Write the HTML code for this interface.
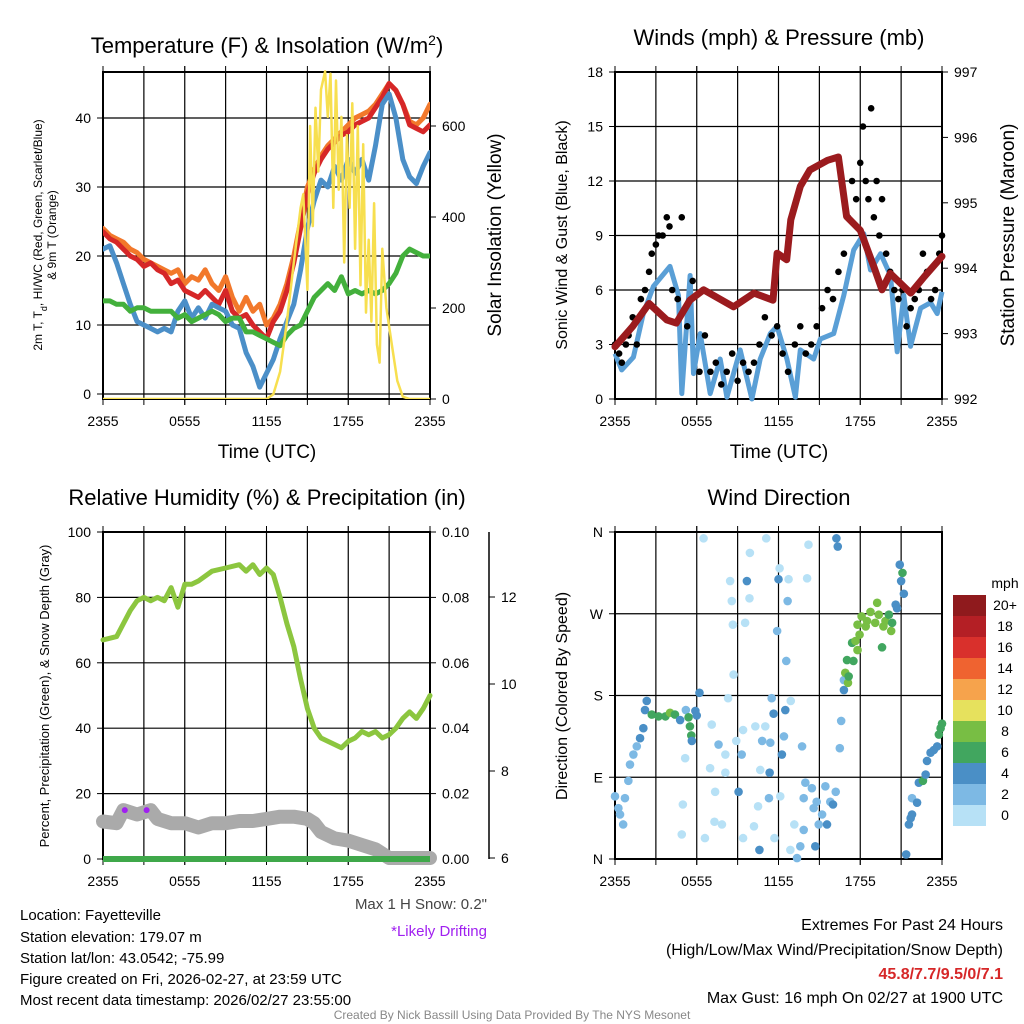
<!DOCTYPE html>
<html><head><meta charset="utf-8"><style>
html,body{margin:0;padding:0;background:#fff;}
svg{display:block;font-family:"Liberation Sans",sans-serif;}
</style></head><body>
<svg id="svg" xmlns="http://www.w3.org/2000/svg" width="1024" height="1024" viewBox="0 0 1024 1024">
<g id="static" font-family="Liberation Sans, sans-serif">
<text x="267" y="53" font-size="22" text-anchor="middle">Temperature (F) &amp; Insolation (W/m<tspan baseline-shift="super" font-size="14">2</tspan>)</text>
<text x="779" y="45" font-size="22" text-anchor="middle">Winds (mph) &amp; Pressure (mb)</text>
<text x="267" y="505" font-size="22" text-anchor="middle">Relative Humidity (%) &amp; Precipitation (in)</text>
<text x="779" y="505" font-size="22" text-anchor="middle">Wind Direction</text>
<g transform="translate(42,235) rotate(-90)" font-size="12" text-anchor="middle"><text x="0" y="0">2m T, T<tspan baseline-shift="sub" font-size="9">d</tspan>, HI/WC (Red, Green, Scarlet/Blue)</text><text x="0" y="14">&amp; 9m T (Orange)</text></g>
<text transform="translate(501,235) rotate(-90)" font-size="19" text-anchor="middle">Solar Insolation (Yellow)</text>
<text x="267" y="458" font-size="19" text-anchor="middle">Time (UTC)</text>
<text x="779" y="458" font-size="19" text-anchor="middle">Time (UTC)</text>
<text transform="translate(567,235) rotate(-90)" font-size="16" text-anchor="middle">Sonic Wind &amp; Gust (Blue, Black)</text>
<text transform="translate(1014,235) rotate(-90)" font-size="19" text-anchor="middle">Station Pressure (Maroon)</text>
<text transform="translate(49,696) rotate(-90)" font-size="13" text-anchor="middle">Percent, Precipitation (Green), &amp; Snow Depth (Gray)</text>
<text transform="translate(567,696) rotate(-90)" font-size="16" text-anchor="middle">Direction (Colored By Speed)</text>
<text x="487" y="909" font-size="15" fill="#444" text-anchor="end">Max 1 H Snow: 0.2"</text>
<text x="487" y="936" font-size="15" fill="#a020f0" text-anchor="end">*Likely Drifting</text>
<g font-size="15">
<text x="20" y="920">Location: Fayetteville</text>
<text x="20" y="942">Station elevation: 179.07 m</text>
<text x="20" y="963">Station lat/lon: 43.0542; -75.99</text>
<text x="20" y="984">Figure created on Fri, 2026-02-27, at 23:59 UTC</text>
<text x="20" y="1005">Most recent data timestamp: 2026/02/27 23:55:00</text>
</g>
<g font-size="16" text-anchor="end">
<text x="1003" y="930">Extremes For Past 24 Hours</text>
<text x="1003" y="955">(High/Low/Max Wind/Precipitation/Snow Depth)</text>
<text x="1003" y="979" fill="#d62728" font-weight="bold">45.8/7.7/9.5/0/7.1</text>
<text x="1003" y="1003">Max Gust: 16 mph On 02/27 at 1900 UTC</text>
</g>
<text x="512" y="1019" font-size="12" fill="#888" text-anchor="middle">Created By Nick Bassill Using Data Provided By The NYS Mesonet</text>
</g>
</svg>
<script>
// ---------- DATA ----------
const hourTicks = ["2355","0555","1155","1755","2355"];
const tempRed = [23.5,22.5,22,21,20,19.5,18.5,19,18,17.5,16,16.5,15,14.5,14,15,14,13,15,12,11,11.5,10,9,8,10.5,12,15,19,24,29,32,34,35.5,36.5,37.5,38,39,39.5,40,41.5,43,45,44,42,39,38.5,38,39];
const tempOrange = [24,23,22.5,22,21,20.5,19.5,19,18.5,18,17.5,18,16,17,16.5,18,16,15,17,14,12,14,12,13,10,11,13,16,20,25,30,32.5,34.5,36,37,38,39,40,40.5,41,42,43.5,45,44,42,39.5,39,40,42];
const tempBlue = [21,21.5,19,16,13,10.5,10,9.5,9,9.5,9,12,13.5,11,12.5,11,13,12.5,12,10,9.5,6,4,1,3,5,8,10.5,13,18,24,28,31,30,33,31,34,32,34,31,36,42,43.5,40,34,31.5,30.5,33,35];
const dewGreen = [13.5,13.5,13,13,12,12.5,12.5,12,12,12,12,11,11.5,10.5,11,11.5,12,11.5,10.5,11,11,9,9,8.5,8,7.5,7,8.5,9.5,10,12,14,15,16,15,17,14.5,15,14.5,15,14.5,15,16,17.5,20,21,20.5,20,20];
const solarHours = [0,12,12.5,13,13.5,14,14.5,14.7,15,15.2,15.4,15.6,15.8,16,16.3,16.5,16.7,16.9,17.1,17.3,17.5,17.7,17.9,18.1,18.3,18.5,18.7,18.9,19.1,19.3,19.5,19.7,19.9,20.1,20.3,20.5,20.8,21.2,21.6,22,22.5,24];
const solarValues = [0,0,10,60,170,300,420,450,240,600,380,640,500,680,720,620,715,420,700,460,620,300,580,420,650,330,600,250,560,190,350,170,430,120,80,330,200,120,40,5,0,0];
const windHours = [0,0.49,1.35,2.08,2.82,4.04,4.66,4.9,5.51,5.76,6.25,6.99,7.72,8.21,9.19,10.05,10.66,11.4,11.89,12.62,13.24,13.6,14.58,15.07,16.05,16.79,17.52,18.26,18.75,19.49,20.22,20.71,21.2,21.69,22.43,23.16,23.65,24];
const windSpeed = [2.5,1.6,2.3,4.7,6.2,7.3,5.7,0.3,6.8,1.4,3.6,0.3,2.2,0.1,2.7,0,2.2,3.6,4,2.2,0.1,2.7,2.2,3.3,3.6,5.7,8.2,9.1,7.1,8,6.8,2.6,5.7,2.9,5,5.3,4.7,5.9];
const gustHours = [0,0.3,0.5,0.8,1,1.3,1.6,1.9,2.2,2.5,2.7,3,3.2,3.5,3.8,4,4.2,4.6,4.9,5.3,5.7,6.2,6.6,7,7.4,7.8,8.2,8.6,9,9.4,9.8,10.2,10.6,11,11.5,11.9,12.3,12.7,13.2,13.6,14,14.4,14.8,15.2,15.6,16,16.4,16.8,17.1,17.4,17.7,18,18.2,18.4,18.6,18.8,19,19.2,19.4,19.6,19.9,20.2,20.5,20.8,21.1,21.4,21.7,22,22.3,22.6,22.9,23.2,23.5,23.8,24];
const gustSpeed = [3,2.5,2,3,3.5,4.5,3,5.5,6,7,8,8.5,9,9,10,9.5,6,5.5,10,4,6.5,1.5,3.5,1.5,2,0.8,1.5,2.5,1,2,1.5,2,3,4.5,3.5,4,2.5,1.5,3,4,2.5,3,4,5,6,5.5,7,8,10,12,11,13,15,12,11,16,10,12,9,11,8,7,6,5.5,6,4,5,5.5,6,8,7,5.5,6,8,9];
const pressHours = [0,1.3,2.5,3.8,4.5,5.5,6.5,8.7,10.2,11.6,11.9,12.6,12.9,13.6,14.3,15.6,16.4,17,18,19,19.6,20.2,21.7,22.7,24];
const pressure = [992.8,993.11,993.46,993.21,993.16,993.51,993.67,993.41,993.62,993.51,994.23,994.13,994.74,995.25,995.5,995.65,995.7,994.79,994.58,994.02,993.67,993.92,993.62,993.87,994.18];
const rhHours = [0,1,1.5,2,2.5,3,3.5,4,4.5,5,5.5,6,6.5,7,8,9,10,10.5,11,11.5,12,12.5,13,13.5,14,14.5,15,15.5,16,16.5,17,17.5,18,18.5,19,19.5,20,20.5,21,21.5,22,22.5,23,23.5,24];
const rh = [67,68,72,76,79,80,79,80,79,83,77,84,84,85,88,89,90,88,90,87,89,87,80,72,65,55,46,40,37,36,35,34,36,37,39,38,39,37,38,40,43,45,43,46,50];
const snowHours = [0,1,1.5,2.5,3.5,4,5,6,7,8,9,10,11,12,13,14,15,15.5,16,17,18,19,20,21,22,24];
const snowDepth = [6.84,6.8,7.1,7.0,7.1,6.9,6.8,6.8,6.7,6.8,6.8,6.85,6.85,6.9,6.95,6.95,6.9,6.8,6.6,6.45,6.4,6.3,6.2,6.0,6.0,6.0];
const precipHours = [0,24];
const precip = [0,0];
const driftHours = [1.6,3.2];
const driftDepth = [7.1,7.1];
const dirHours = [0,0.25,0.37,0.6,0.73,0.98,1.1,1.35,1.6,1.84,2.08,2.2,2.33,2.7,3.2,3.7,4.04,4.4,4.78,5.2,5.4,5.5,5.6,5.64,5.9,6.0,6.2,5.15,4.98,4.9,6.5,6.6,7.35,7.3,7.1,6.98,7.6,8.1,8.1,7.85,8.3,8.45,8.57,8.65,8.7,8.9,9.07,9.3,9.4,9.55,9.68,9.9,9.87,9.4,10.3,10.8,10.66,10.5,10.2,10.6,11.1,11.03,11.3,11.35,11.4,11.5,11.64,11.7,11.9,12.0,12.08,12.13,12.25,12.4,12.5,12.57,12.67,12.74,12.87,12.9,13.16,13.36,13.6,13.73,13.85,13.85,13.97,14.1,14.2,14.45,14.58,14.7,14.8,14.95,15.2,15.44,15.56,15.8,16.0,16.2,16.25,16.35,16.5,16.6,16.8,16.8,17.1,16.9,17.15,17.03,17.5,17.4,17.8,17.65,17.95,17.8,18.1,18.4,18.5,18.75,19.1,19.24,19.36,19.6,19.7,19.85,20.1,20.27,20.34,20.6,20.7,20.9,21.1,21.0,21.2,21.37,21.57,21.8,21.7,21.8,22.17,22.3,22.6,22.8,22.9,23.16,23.4,23.65,23.77,23.9,24];
const dirDeg = [69,56,49,38,67,86,104,115,124,133,144,164,174,159,157,157,161,159,153,164,156,146,136,130,163,158,183,111,60,27,353,23,74,41,148,100,126,115,95,38,177,306,284,258,203,130,74,115,23,260,306,337,287,142,146,130,98,58,36,10,353,146,67,95,128,177,160,23,251,308,320,69,115,135,164,218,284,308,10,174,38,1,14,124,67,32,84,309,346,78,56,14,63,38,49,80,38,63,60,74,353,344,122,152,186,197,194,205,201,219,218,238,230,240,247,258,267,256,262,272,260,282,269,233,256,262,269,251,260,280,276,324,315,306,292,5,38,49,45,67,62,84,86,93,108,117,120,124,137,144,149];
const dirSpeed = [3,3,3,3,3,3,3,3,3,5,5,5,5,7,7,7,9,7,5,3,7,7,7,5,5,5,5,1,1,1,1,1,1,1,1,1,3,1,1,1,1,1,1,1,1,1,5,3,1,1,5,1,1,1,1,3,1,1,1,5,1,1,3,5,3,3,5,1,3,5,1,1,5,3,5,3,3,1,1,1,1,3,3,3,3,3,3,1,1,3,3,5,3,3,3,3,5,3,5,3,5,5,3,3,5,3,9,9,7,7,7,7,9,9,9,9,9,9,9,9,9,9,9,7,9,9,7,9,7,5,5,5,7,5,5,5,5,5,5,3,5,5,7,5,5,5,5,5,7,7,7];
const speedBins = ["20+","18","16","14","12","10","8","6","4","2","0"];
const speedColors = ["#8f1a1d","#b41f25","#d9302c","#ef6330","#f6a34c","#e6e15d","#78be44","#41a65f","#4a8fc6","#7db9e4","#b7e1f6"];

// ---------- HELPERS ----------
const NS = "http://www.w3.org/2000/svg";
const svg = document.getElementById("svg");
function el(tag, attrs, parent){ const e=document.createElementNS(NS,tag); for(const k in attrs) e.setAttribute(k,attrs[k]); (parent||svg).appendChild(e); return e; }
function txt(x,y,s,size,anchor,parent){ const t=el("text",{x:x,y:y,"font-size":size,"text-anchor":anchor||"middle"},parent); t.textContent=s; return t; }
const L=103,R=430,L2=615,R2=942,T1=72,B1=399,T2=532,B2=859;
function xs(x0,x1){ return h => x0 + (x1-x0)*h/24; }
function ys(v0,v1,y0,y1){ return v => y0 + (y1-y0)*(v-v0)/(v1-v0); }
function path(hs,vs,sx,sy){ return hs.map((h,i)=>(i?"L":"M")+sx(h).toFixed(1)+","+sy(vs[i]).toFixed(1)).join(""); }
function idx(n){ return Array.from({length:n},(_,i)=>i*24/(n-1)); }

function frame(x0,x1,y0,y1,hy,name){
  const g=el("g",{});
  
  
  const sx=xs(x0,x1);
  for(let h=3;h<24;h+=3){ el("line",{x1:sx(h),x2:sx(h),y1:y0,y2:y1,stroke:"#000","stroke-width":1.2},g); el("line",{x1:sx(h),x2:sx(h),y1:y0,y2:y0-6,stroke:"#000"},g); el("line",{x1:sx(h),x2:sx(h),y1:y1,y2:y1+6,stroke:"#000"},g); }
  hy.forEach(y=>el("line",{x1:x0,x2:x1,y1:y,y2:y,stroke:"#000","stroke-width":1.2},g));
  el("rect",{x:x0,y:y0,width:x1-x0,height:y1-y0,fill:"none",stroke:"#000","stroke-width":2},g);
  hourTicks.forEach((t,i)=>{ const x=sx(i*6); el("line",{x1:x,x2:x,y1:y1,y2:y1+6,stroke:"#000"},g); el("line",{x1:x,x2:x,y1:y0,y2:y0-6,stroke:"#000"},g); const tt=txt(x,y1+27,t,14,"middle",g);   });
  return g;
}
function yTicks(vals,labels,sy,x,side,size,g){
  vals.forEach((v,i)=>{ const y=sy(v); el("line",{x1:x,x2:x+(side<0?-6:6),y1:y,y2:y,stroke:"#000"},g); const t=txt(x+(side<0?-12:12),y+5,labels[i],size||14,side<0?"end":"start",g);   });
}

// ---------- PANEL 1: Temperature ----------
{
  const sx=xs(L,R), sy=ys(0,40,394,118), ss=ys(0,600,399,126);
  const g=frame(L,R,T1,B1,[0,10,20,30,40].map(sy),"temp");
  yTicks([0,10,20,30,40],["0","10","20","30","40"],sy,L,-1,14,g);
  yTicks([0,200,400,600],["0","200","400","600"],ss,R,1,14,g);
  const clip=el("clipPath",{id:"c1"}); el("rect",{x:L,y:T1-4,width:R-L,height:B1-T1+4},clip);
  const s=el("g",{"clip-path":"url(#c1)"});
  const series=[[tempOrange,"#f2782b","temp-9m-line"],[tempRed,"#d62728","temp-2m-line"],[tempBlue,"#4b8fc8","wind-chill-line"],[dewGreen,"#43b03c","dewpoint-line"]];
  series.forEach(([d,c,n])=>{ const p=el("path",{d:path(idx(d.length),d,sx,sy),fill:"none",stroke:c,"stroke-width":5,"stroke-linejoin":"round","stroke-linecap":"round"},s);
    
     });
  const y=el("path",{d:path(solarHours,solarValues,sx,ss),fill:"none",stroke:"#f7df4f","stroke-width":2.5,"stroke-linejoin":"round"},s);
  
  
}
// ---------- PANEL 2: Winds ----------
{
  const sx=xs(L2,R2), sy=ys(0,18,399,72), sp=ys(992,997,399,72);
  const g=frame(L2,R2,T1,B1,[3,6,9,12,15].map(sy),"winds");
  yTicks([0,3,6,9,12,15,18],["0","3","6","9","12","15","18"],sy,L2,-1,14,g);
  yTicks([992,993,994,995,996,997],["992","993","994","995","996","997"],sp,R2,1,14,g);
  const b=el("path",{d:path(windHours,windSpeed,sx,sy),fill:"none",stroke:"#5a9fd6","stroke-width":5,"stroke-linejoin":"round"});
  
  
  const gg=el("g",{});
  
  
  gustHours.forEach((h,i)=>{ const c=el("circle",{cx:sx(h),cy:sy(gustSpeed[i]),r:3.3,fill:"#000"},gg);
    
     });
  const p=el("path",{d:path(pressHours,pressure,sx,sp),fill:"none",stroke:"#9b1b1e","stroke-width":7,"stroke-linejoin":"round","stroke-linecap":"round"});
  
  
}
// ---------- PANEL 3: RH ----------
{
  const sx=xs(L,R), sy=ys(0,100,859,532), sd=ys(6,12,858,597), spr=ys(0,0.1,859,532);
  const g=frame(L,R,T2,B2,[20,40,60,80].map(sy),"rh");
  yTicks([0,20,40,60,80,100],["0","20","40","60","80","100"],sy,L,-1,14,g);
  yTicks([0,0.02,0.04,0.06,0.08,0.1],["0.00","0.02","0.04","0.06","0.08","0.10"],spr,R,1,14,g);
  const ax=el("g",{});
  
  
  el("line",{x1:489,x2:489,y1:T2,y2:B2,stroke:"#000","stroke-width":1.5},ax);
  yTicks([6,8,10,12],["6","8","10","12"],sd,489,1,14,ax);
  const sn=el("path",{d:path(snowHours,snowDepth,sx,sd),fill:"none",stroke:"#aaaaaa","stroke-width":14,"stroke-linejoin":"round","stroke-linecap":"round"});
  
  
  const pr=el("path",{d:path(precipHours,precip,sx,spr),fill:"none",stroke:"#3fa84a","stroke-width":6});
  
  
  driftHours.forEach((h,i)=>{ const c=el("circle",{cx:sx(h),cy:sd(driftDepth[i]),r:3,fill:"#a020f0"});
    
     });
  const r=el("path",{d:path(rhHours,rh,sx,sy),fill:"none",stroke:"#8cc63f","stroke-width":5,"stroke-linejoin":"round","stroke-linecap":"round"});
  
  
}
// ---------- PANEL 4: Direction ----------
{
  const sx=xs(L2,R2), sy=ys(0,360,859,532);
  const g=frame(L2,R2,T2,B2,[90,180,270].map(sy),"direction");
  yTicks([0,90,180,270,360],["N","E","S","W","N"],sy,L2,-1,14,g);
  const dg=el("g",{});
  
  
  dirHours.forEach((h,i)=>{ const k=Math.max(0,Math.min(10,10-Math.floor(dirSpeed[i]/2)));
    const c=el("circle",{cx:sx(h),cy:sy(dirDeg[i]),r:4.3,fill:speedColors[k]},dg);
    
     });
  const lg=el("g",{});
  
  
  txt(1005,588,"mph",14,"middle",lg);
  speedBins.forEach((b,i)=>{ el("rect",{x:953,y:595+i*21,width:33,height:21,fill:speedColors[i]},lg); txt(1005,610+i*21,b,14,"middle",lg); });
}
</script>
</body></html>
